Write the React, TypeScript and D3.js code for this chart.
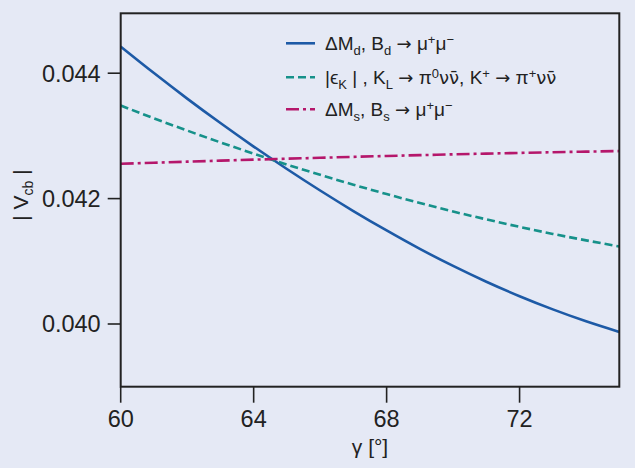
import React, { useEffect, useRef } from "react";
import * as d3 from "d3";

// gamma in degrees
const gammaDeg = [60, 61, 62, 63, 64, 65, 66, 67, 68, 69, 70, 71, 72, 73, 74, 75];

// |Vcb| from dMd, Bd -> mu mu
const vcbDeltaMd = [
  0.044424, 0.044002, 0.043595, 0.043205, 0.04283, 0.042472, 0.042129, 0.041802,
  0.041492, 0.041198, 0.040926, 0.040674, 0.040443, 0.040233, 0.040043, 0.039874,
];

// |Vcb| from eps_K, K -> pi nu nu
const vcbEpsK = [
  0.043484, 0.04328, 0.043085, 0.042897, 0.042717, 0.042543, 0.042379, 0.042222,
  0.042072, 0.04193, 0.041794, 0.041669, 0.041549, 0.041437, 0.041334, 0.041237,
];

// |Vcb| from dMs, Bs -> mu mu
const vcbDeltaMs = [
  0.042555, 0.042572, 0.042589, 0.042605, 0.042621, 0.042636, 0.042651, 0.042666,
  0.04268, 0.042693, 0.042706, 0.042718, 0.042729, 0.04274, 0.042749, 0.042758,
];

const xTicks = [60, 64, 68, 72];
const yTicks = [0.04, 0.042, 0.044];

// legend pieces: [text, kind] kind: n normal, b sub, p sup, a arrow/symbol font
const legendDd = [["ΔM", "n"], ["d", "b"], [", B", "n"], ["d", "b"], [" ", "n"], ["→", "a"], [" μ", "n"], ["+", "p"], ["μ", "n"], ["−", "p"]];
const legendEps = [["|ϵ", "n"], ["K", "b"], [" | , K", "n"], ["L", "b"], [" ", "n"], ["→", "a"], [" π", "n"], ["0", "p"], ["νν\u0304", "a"], [", K", "n"], ["+", "p"], [" ", "n"], ["→", "a"], [" π", "n"], ["+", "p"], ["νν\u0304", "a"]];
const legendDs = [["ΔM", "n"], ["s", "b"], [", B", "n"], ["s", "b"], [" ", "n"], ["→", "a"], [" μ", "n"], ["+", "p"], ["μ", "n"], ["−", "p"]];

const App = () => {
  const ref = useRef<SVGSVGElement>(null);

  useEffect(() => {
    const width = 635;
    const height = 468;
    const left = 120.7;
    const right = 619.3;
    const top = 13.3;
    const bottom = 386.7;
    const font = "'Liberation Sans', Arial, sans-serif";

    const svg = d3.select(ref.current).attr("width", width).attr("height", height);
    svg.selectAll("*").remove();

    svg.append("rect").attr("width", width).attr("height", height).attr("fill", "#e5e9f5");

    const x = d3.scaleLinear().domain([60, 75]).range([left, right]);
    const y = d3.scaleLinear().domain([0.039, 0.045]).range([bottom, 10.5]);

    // curves
    const line = d3
      .line<number>()
      .x((d, i) => x(gammaDeg[i]))
      .y((d) => y(d))
      .curve(d3.curveMonotoneX);

    const series = [
      { values: vcbDeltaMd, color: "#1d5aa6", dash: null, legend: legendDd },
      { values: vcbEpsK, color: "#16918a", dash: "8,4", legend: legendEps },
      { values: vcbDeltaMs, color: "#b5176b", dash: "13,4,3,4", legend: legendDs },
    ];

    series.forEach((s) => {
      svg
        .append("path")
        .attr("d", line(s.values))
        .attr("fill", "none")
        .attr("stroke", s.color)
        .attr("stroke-width", 2.6)
        .attr("stroke-dasharray", s.dash);
    });

    // frame
    svg
      .append("rect")
      .attr("x", left)
      .attr("y", top)
      .attr("width", right - left)
      .attr("height", bottom - top)
      .attr("fill", "none")
      .attr("stroke", "#222")
      .attr("stroke-width", 2);

    // x ticks
    xTicks.forEach((t) => {
      svg
        .append("line")
        .attr("x1", x(t))
        .attr("x2", x(t))
        .attr("y1", bottom)
        .attr("y2", bottom + 16)
        .attr("stroke", "#222")
        .attr("stroke-width", 1.6);
      svg
        .append("text")
        .attr("x", x(t))
        .attr("y", bottom + 40)
        .attr("text-anchor", "middle")
        .attr("font-family", font)
        .attr("font-size", 23.5)
        .attr("fill", "#222")
        .text(t);
    });

    // y ticks
    yTicks.forEach((t) => {
      svg
        .append("line")
        .attr("x1", left - 13)
        .attr("x2", left)
        .attr("y1", y(t))
        .attr("y2", y(t))
        .attr("stroke", "#222")
        .attr("stroke-width", 1.6);
      svg
        .append("text")
        .attr("x", left - 20)
        .attr("y", y(t))
        .attr("dy", "0.36em")
        .attr("text-anchor", "end")
        .attr("font-family", font)
        .attr("font-size", 23.5)
        .attr("fill", "#222")
        .text(d3.format(".3f")(t));
    });

    // axis titles
    svg
      .append("text")
      .attr("x", (left + right) / 2)
      .attr("y", 454)
      .attr("text-anchor", "middle")
      .attr("font-family", font)
      .attr("font-size", 21)
      .attr("fill", "#222")
      .text("γ [°]");

    const yt = svg
      .append("text")
      .attr("transform", "translate(28,195) rotate(-90)")
      .attr("text-anchor", "middle")
      .attr("font-family", font)
      .attr("font-size", 21)
      .attr("fill", "#222");
    yt.append("tspan").text("| V");
    yt.append("tspan").attr("dy", 5).attr("font-size", 14).text("cb");
    yt.append("tspan").attr("dy", -5).text(" |");

    // legend
    const rowY = [43.3, 77.3, 109.3];
    series.forEach((s, i) => {
      svg
        .append("line")
        .attr("x1", 286)
        .attr("x2", 315)
        .attr("y1", rowY[i])
        .attr("y2", rowY[i])
        .attr("stroke", s.color)
        .attr("stroke-width", 2.6)
        .attr("stroke-dasharray", s.dash);

      const t = svg
        .append("text")
        .attr("x", 325)
        .attr("y", rowY[i] + 6.5)
        .attr("font-family", font)
        .attr("font-size", 19)
        .attr("fill", "#222");
      let shift = 0;
      s.legend.forEach(([txt, kind]) => {
        const target = kind === "b" ? 5 : kind === "p" ? -6 : 0;
        const sp = t.append("tspan").attr("dy", target - shift).text(txt);
        shift = target;
        if (kind === "b" || kind === "p") sp.attr("font-size", 13);
        if (kind === "a") sp.attr("font-family", "'DejaVu Sans', sans-serif").attr("font-size", 18);
      });
    });
  }, []);

  return (
    <div>
      <svg ref={ref} style={{ position: "absolute", left: 0, top: 0, display: "block" }}></svg>
    </div>
  );
};

export default App;
